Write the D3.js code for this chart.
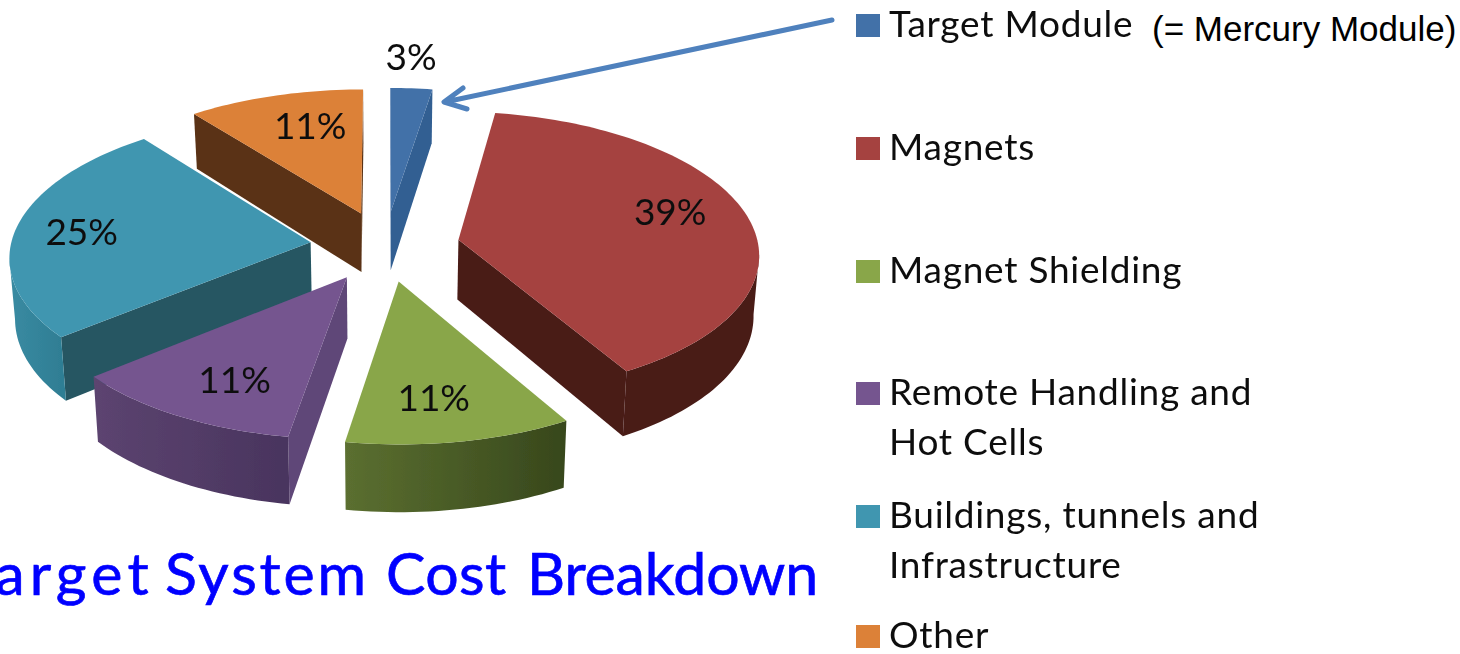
<!DOCTYPE html>
<html><head><meta charset="utf-8">
<script src="https://cdnjs.cloudflare.com/ajax/libs/d3/7.8.5/d3.min.js"></script>
<style>html,body{margin:0;padding:0;background:#fff;overflow:hidden}svg{display:block}</style>
</head><body><svg id="c" width="1460" height="654"></svg>
<script>
const categories = ["Target Module","Magnets","Magnet Shielding","Remote Handling and\nHot Cells","Buildings, tunnels and\nInfrastructure","Other"];
const shares = [2.5,39.2,10.9,11.4,25.45,10.55];
const topColors = ["#4371a8","#a54240","#89a64a","#74548f","#4096b0","#dc8138"];
const rimRight = ["#305e92","#481a16","#37471c","#49345e","#2f7e94","#5a3214"];
const rimLeft = ["#305e92","#481a16","#5b6f30","#5c4470","#3a8ba2","#5a3214"];
const radialColors = ["#305e92","#481a16","#5b6f30","#5f4678","#265662","#5a3214"];
const labelNudge = [[-4,-9],[-5,-9],[-10,-1],[12,1],[-8,1],[15,3]];
const legendBaselines = [[37],[160],[283],[405,455],[528,578],[648]];
const titleWords = ["Target ","System ","Cost ","Breakdown"];
const titleStarts = [-38,165,386,527];
const titleTracking = [5.2,2.9,0.4,-0.1];
const noteText = "(= Mercury Module)";

const svg = d3.select("#c");
const defs = svg.append("defs");
defs.append("filter").attr("id","soft").attr("x","-5%").attr("y","-5%").attr("width","110%").attr("height","110%")
  .append("feGaussianBlur").attr("stdDeviation",0.6);
const cx=385, cy=246, explode=0.25, K=0.092, labelReach=0.75;
const xs=d3.scaleLinear().domain([0,1]).range([cx,cx+300]);
const ys=d3.scaleLinear().domain([0,1]).range([cy,cy-141]);
const poly=d3.line();
const arcs=d3.pie().sort(null).value(d=>d).startAngle(0).endAngle(2*Math.PI)(shares);
const mid=a=>(a.startAngle+a.endAngle)/2;

function world(a,ang,f){const m=mid(a);return [explode*Math.sin(m)+f*Math.sin(ang),explode*Math.cos(m)+f*Math.cos(ang)];}
function proj(w){const s=1/(1+K*w[1]);return {x:xs(w[0]*s),y:ys(w[1]*s),s};}
const drop=p=>({x:cx+(p.x-cx)*0.985,y:p.y+60*p.s});
const xy=p=>[p.x,p.y];

const order=arcs.map((a,i)=>({a,i})).sort((p,q)=>Math.cos(mid(q.a))-Math.cos(mid(p.a)));
const g=svg.append("g").attr("filter","url(#soft)");
order.forEach(({a,i})=>{
  const n=Math.max(8,Math.round((a.endAngle-a.startAngle)*40));
  const pts=d3.range(n+1).map(j=>proj(world(a,a.startAngle+(a.endAngle-a.startAngle)*j/n,1)));
  const apex=proj(world(a,0,0));
  const radial=(p,q)=>{ if(q.x-p.x>=0) return;
    g.append("path").attr("d",poly([p,q,drop(q),drop(p)].map(xy))+"Z").attr("fill",radialColors[i]);};
  radial(apex,pts[0]);
  radial(pts[n],apex);
  const run=pts.filter((p,j)=>(j<n&&pts[j+1].x<p.x)||(j>0&&p.x<pts[j-1].x));
  if(run.length>1){
    const ext=d3.extent(run,d=>d.x), id="rim"+i;
    const lg=defs.append("linearGradient").attr("id",id).attr("gradientUnits","userSpaceOnUse")
      .attr("x1",ext[1]).attr("x2",ext[0]).attr("y1",0).attr("y2",0);
    lg.append("stop").attr("offset",0).attr("stop-color",rimRight[i]);
    lg.append("stop").attr("offset",1).attr("stop-color",rimLeft[i]);
    g.append("path").attr("d",poly([...run.map(xy),...run.map(drop).reverse().map(xy)])+"Z").attr("fill",`url(#${id})`);
  }
  g.append("path").attr("d",poly([apex,...pts].map(xy))+"Z").attr("fill",topColors[i]);
});

// percent labels
arcs.forEach((a,i)=>{
  const reach=i===0?1.2:labelReach, p=proj(world(a,mid(a),reach));
  g.append("text").attr("x",p.x+labelNudge[i][0]).attr("y",p.y+13+labelNudge[i][1]).attr("text-anchor","middle")
    .attr("font-family","Lato").attr("font-size",37).attr("fill","#111").text(Math.round(shares[i])+"%");
});

// arrow
const ap=d3.path();ap.moveTo(832,20);ap.lineTo(445,102);ap.moveTo(463,88);ap.lineTo(444,102);ap.lineTo(467,109);
svg.append("path").attr("d",ap.toString()).attr("fill","none").attr("stroke","#4f81bd").attr("stroke-width",5).attr("stroke-linecap","round").attr("stroke-linejoin","round");

// legend
const lg2=svg.append("g").attr("filter","url(#soft)");
categories.forEach((c,i)=>{
  const lines=c.split("\n"),b=legendBaselines[i];
  lg2.append("rect").attr("x",856).attr("y",b[0]-23).attr("width",24).attr("height",23).attr("fill",topColors[i]);
  lines.forEach((t,j)=>lg2.append("text").attr("x",889).attr("y",b[j]).attr("font-family","Lato")
    .attr("font-size",37).attr("letter-spacing",0.75).attr("fill","#111").text(t));
});
svg.append("text").attr("x",1152).attr("y",41).attr("font-family","Liberation Sans").attr("font-size",35).attr("fill","#000").text(noteText);
const title=svg.append("text").attr("y",595).attr("font-family","Lato").attr("font-size",59)
  .attr("stroke","#0000ff").attr("stroke-width",0.7).attr("fill","#0000ff");
titleWords.forEach((w,i)=>title.append("tspan").attr("x",titleStarts[i]).attr("letter-spacing",titleTracking[i]).text(w));
</script></body></html>
